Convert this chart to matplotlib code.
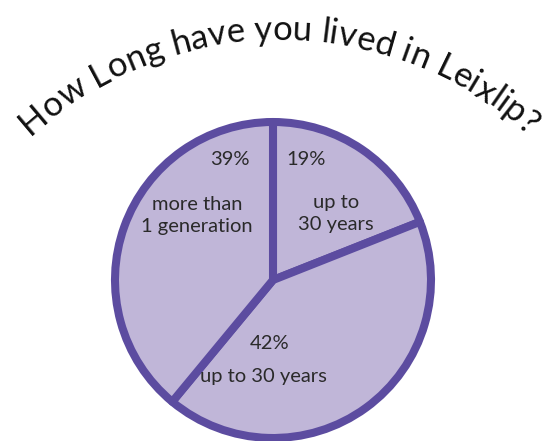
import matplotlib
matplotlib.use("Agg")
import numpy as np
import matplotlib.pyplot as plt
from matplotlib.font_manager import FontProperties

# Данные опроса
values = [19, 42, 39]
pct_labels = ['19%', '42%', '39%']
names = ['up to\n30 years', 'up to 30 years', 'more than\n1 generation']
title = 'How Long have you lived in Leixlip?'

fill = '#c0b6d8'
edge = '#5c4ca0'
ink = '#2a2a2a'
W, H = 544, 441

plt.rcParams['font.family'] = ['Lato', 'DejaVu Sans']
fig = plt.figure(figsize=(W / 100, H / 100), dpi=100)

# круг: центр и радиус в пикселях (y сверху)
cx, cy, r = 273, 280, 158
lim = 1.06
ax = fig.add_axes([(cx - r * lim) / W, (H - cy - r * lim) / H,
                   2 * r * lim / W, 2 * r * lim / H])
ax.pie(values, startangle=90, counterclock=False, colors=[fill] * len(values),
       wedgeprops=dict(edgecolor=edge, linewidth=5.8, joinstyle='round'))
ax.set_xlim(-lim, lim)
ax.set_ylim(-lim, lim)
ax.axis('off')

# подписи секторов
fs = 14.5
pct_pos = [(0.21, 0.76), (-0.02, -0.40), (-0.27, 0.76)]
name_pos = [(0.40, 0.42), (-0.06, -0.61), (-0.48, 0.41)]
for p, n, pp, npos in zip(pct_labels, names, pct_pos, name_pos):
    ax.text(pp[0], pp[1], p, ha='center', va='center', fontsize=fs, color=ink)
    ax.text(npos[0], npos[1], n, ha='center', va='center', fontsize=fs,
            color=ink, linespacing=1.35)

# заголовок по дуге
renderer = fig.canvas.get_renderer()


def text_w(s, fp):
    w, h, d = renderer.get_text_width_height_descent(s, fp, ismath=False)
    return w


def positions(fp):
    bar = text_w('|', fp)
    return [text_w(title[:i] + '|', fp) - bar for i in range(len(title) + 1)]


acx, acy, R = 279, 410, 370
target = 546.0
fp = FontProperties(family=['Lato', 'DejaVu Sans'], size=20)
L = positions(fp)[-1]
tfs = 20 * target / L
fp = FontProperties(family=['Lato', 'DejaVu Sans'], size=tfs)
pos = positions(fp)
L = pos[-1]
for i, ch in enumerate(title):
    if ch == ' ':
        continue
    s = (pos[i] + pos[i + 1]) / 2 - L / 2
    th = np.pi / 2 - s / R
    x = acx + R * np.cos(th)
    y = acy - R * np.sin(th)
    fig.text(x / W, 1 - y / H, ch, fontproperties=fp, color='#111111',
             ha='center', va='baseline', rotation=np.degrees(th) - 90,
             rotation_mode='anchor')

fig.savefig('out.png', dpi=100)
